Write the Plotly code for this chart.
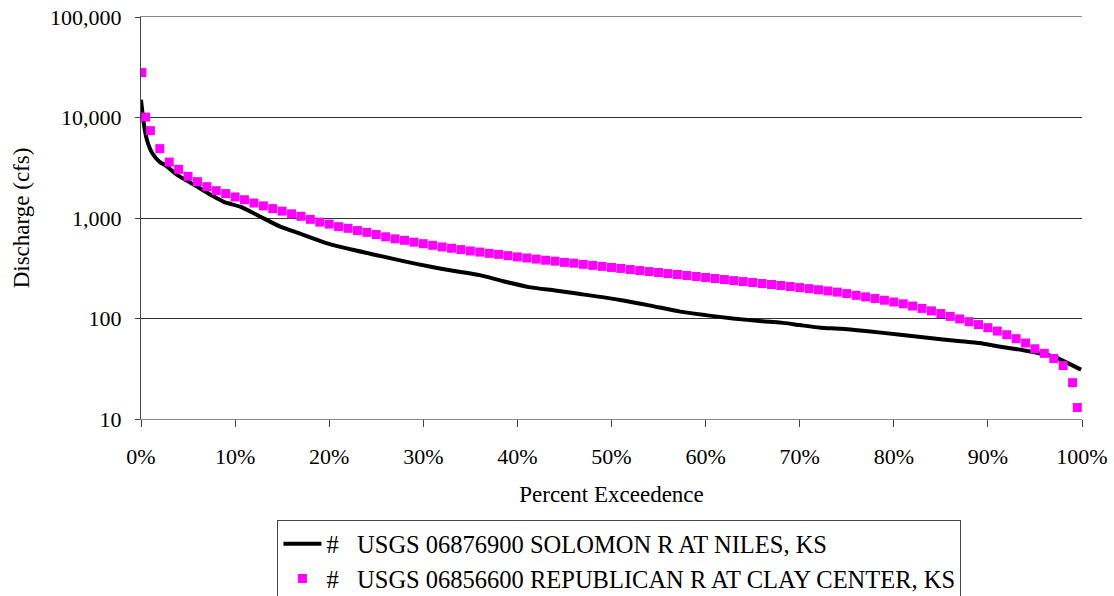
import plotly.graph_objects as go

# Flow-duration data: percent of time a discharge is equalled or exceeded
solomon_pct = [0.0, 0.3, 0.65, 1.2, 2.0, 2.6, 3.8, 5.6, 7.4, 8.8, 10.6, 12.7, 14.8,
               16.9, 19.8, 22.6, 25.4, 28, 30.8, 33, 36, 38.5, 41.4, 44, 46.7, 50.9,
               54, 57.3, 60, 62.9, 66, 68, 70, 72.2, 74.3, 77, 80.7, 85, 89.1, 91,
               93.4, 95, 97, 98.5, 99.9]
solomon_cfs = [15000, 8700, 5900, 4400, 3600, 3350, 2700, 2150, 1700, 1450, 1290, 1030, 820,
               700, 560, 480, 420, 370, 327, 300, 270, 235, 204, 190, 175, 153,
               135, 117, 108, 100, 94, 91, 86, 81, 79, 75, 69, 62, 57, 53,
               49, 46, 42, 36, 31]

republican_pct = [0.1, 0.5] + list(range(1, 100)) + [99.5]
republican_cfs = [28000, 10100,
                  7400, 4900, 3600, 3050, 2600, 2300, 2050, 1870, 1750, 1620,
                  1520, 1410, 1320, 1240, 1170, 1100, 1040, 970, 910, 870,
                  820, 790, 750, 720, 685, 650, 620, 600, 575, 555,
                  535, 515, 500, 485, 470, 458, 445, 435, 422, 410,
                  400, 390, 380, 372, 362, 355, 346, 338, 330, 322,
                  315, 307, 300, 293, 287, 280, 274, 268, 262, 256,
                  250, 244, 238, 233, 228, 223, 218, 213, 208, 203,
                  198, 193, 188, 183, 177, 170, 164, 158, 152, 146,
                  140, 133, 126, 119, 112, 105, 99, 93, 87, 81,
                  75, 69, 63, 57, 50, 45, 40, 34, 23,
                  13]

series_names = ["#\u00a0\u00a0\u00a0USGS 06876900 SOLOMON R AT NILES, KS",
                "#\u00a0\u00a0\u00a0USGS 06856600 REPUBLICAN R AT CLAY CENTER, KS"]

y_tick_vals = [10, 100, 1000, 10000, 100000]
y_tick_text = ["10", "100", "1,000", "10,000", "100,000"]
x_tick_vals = [0, 10, 20, 30, 40, 50, 60, 70, 80, 90, 100]
x_tick_text = ["0%", "10%", "20%", "30%", "40%", "50%", "60%", "70%", "80%", "90%", "100%"]

FONT = "Liberation Serif, Times New Roman, serif"

fig = go.Figure()
fig.add_trace(go.Scatter(
    x=solomon_pct, y=solomon_cfs, mode="lines", name=series_names[0],
    line=dict(color="black", width=4, shape="spline", smoothing=0.6),
    legendgroup="a",
))
fig.add_trace(go.Scatter(
    x=republican_pct, y=republican_cfs, mode="markers", name=series_names[1],
    marker=dict(color="#FF00FF", symbol="square", size=9, line=dict(width=0)),
    legendgroup="b",
))

fig.update_layout(
    width=1114, height=596,
    margin=dict(l=141, r=32, t=17, b=177, autoexpand=False),
    paper_bgcolor="white", plot_bgcolor="white",
    font=dict(family=FONT, size=22, color="black"),
    showlegend=True,
    legend=dict(
        x=0.145, y=-0.252, xanchor="left", yanchor="top",
        bordercolor="#444", borderwidth=1, bgcolor="white",
        font=dict(family=FONT, size=24.5),
        traceorder="grouped", tracegroupgap=0,
        itemwidth=38,
    ),
)

fig.update_xaxes(
    range=[0, 100], tickmode="array", tickvals=x_tick_vals, ticktext=x_tick_text,
    ticks="outside", ticklen=7, tickcolor="#444", ticklabelstandoff=11,
    showline=True, linecolor="#888", linewidth=1, mirror=True,
    showgrid=False, zeroline=False,
    tickfont=dict(size=22),
    title=dict(text="Percent Exceedence", font=dict(size=23), standoff=17),
)
fig.update_yaxes(
    type="log", range=[1, 5], tickmode="array", tickvals=y_tick_vals, ticktext=y_tick_text,
    ticks="outside", ticklen=5, tickcolor="#444", ticklabelstandoff=9,
    showline=True, linecolor="#444", linewidth=1,
    showgrid=True, gridcolor="#333", gridwidth=1,
    tickfont=dict(size=22),
    title=dict(text="Discharge (cfs)", font=dict(size=23), standoff=14),
)

fig.write_html("out.html")
